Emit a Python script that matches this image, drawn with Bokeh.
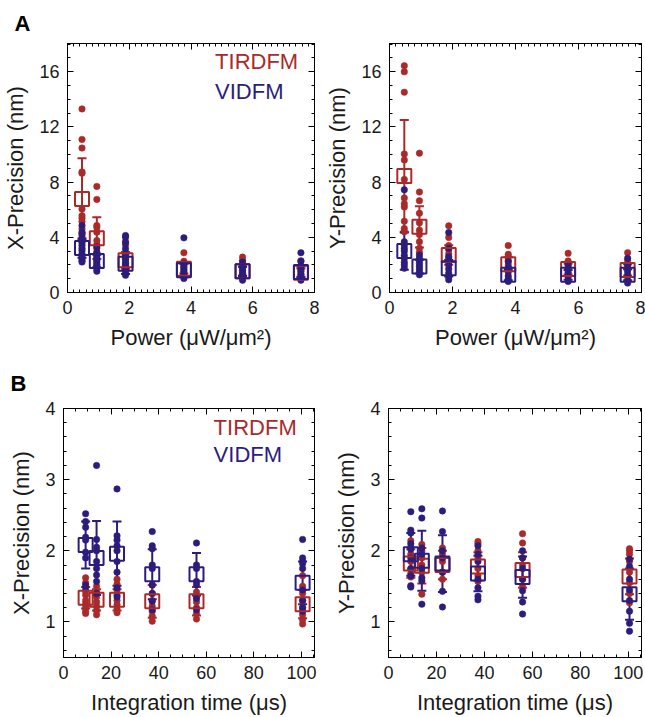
import numpy as np
from bokeh.plotting import figure
from bokeh.layouts import column, row
from bokeh.models import (Range1d, LinearAxis, Label, Whisker, TeeHead,
                          ColumnDataSource, FixedTicker, Title)
from bokeh.embed import file_html
from bokeh.resources import INLINE

# ---------------- data ----------------
power = [0.47, 0.95, 1.88, 3.77, 5.67, 7.56]
itime = [9.3, 13.9, 22.5, 37.3, 55.9, 100.5]

# Panel A, X-precision vs power
tir_ax_mean = [6.77, 3.94, 2.33, 1.73, 1.54, 1.44]
tir_ax_sd = [2.96, 1.51, 0.60, 0.35, 0.30, 0.30]
vi_ax_mean = [3.22, 2.28, 2.09, 1.61, 1.54, 1.49]
vi_ax_sd = [0.70, 0.45, 0.75, 0.50, 0.35, 0.40]
tir_ax_pts = [
    [13.31, 11.1, 10.47, 8.74, 8.65, 6.05, 5.57, 5.38, 5.14, 4.6, 4.3, 4.0, 3.7],
    [7.69, 6.75, 4.85, 4.72, 4.37, 3.77, 3.48, 3.2, 2.9],
    [3.7, 3.46, 2.9, 2.69, 2.4, 2.1, 1.9],
    [2.88, 2.26, 2.0, 1.8, 1.6, 1.4],
    [2.57, 2.33, 2.0, 1.7, 1.4, 1.2],
    [2.3, 1.9, 1.6, 1.3, 1.1],
]
vi_ax_pts = [
    [4.85, 4.37, 4.18, 3.89, 3.6, 3.41, 3.2, 3.05, 2.81, 2.6, 2.45, 2.3, 2.21],
    [3.3, 2.9, 2.69, 2.55, 2.45, 2.3, 2.21, 2.05, 1.97, 1.85, 1.73, 1.54],
    [4.13, 4.01, 3.6, 3.17, 2.81, 2.6, 2.45, 2.2, 1.97, 1.8, 1.61, 1.45, 1.25],
    [3.96, 2.1, 1.9, 1.7, 1.5, 1.35, 1.2, 1.01],
    [2.21, 2.0, 1.8, 1.6, 1.4, 1.2, 1.05, 0.89],
    [2.88, 2.26, 1.9, 1.7, 1.5, 1.3, 1.1, 0.89],
]

# Panel A, Y-precision vs power
tir_ay_mean = [8.45, 4.76, 2.72, 2.05, 1.71, 1.64]
tir_ay_sd = [4.05, 1.50, 0.70, 0.50, 0.40, 0.40]
vi_ay_mean = [3.00, 1.88, 1.76, 1.28, 1.28, 1.28]
vi_ay_sd = [1.35, 0.50, 0.60, 0.40, 0.35, 0.40]
tir_ay_pts = [
    [16.44, 16.0, 14.52, 10.04, 9.6, 8.2, 6.85, 6.44, 6.2, 5.17, 4.64, 4.4],
    [10.1, 7.28, 6.65, 5.74, 5.05, 4.52, 4.2, 3.68, 3.2, 2.9],
    [4.83, 3.99, 3.4, 3.1, 2.8, 2.5, 2.2],
    [3.4, 2.77, 2.6, 2.3, 2.0, 1.8],
    [2.84, 2.29, 2.0, 1.8, 1.5],
    [2.89, 2.3, 2.0, 1.7, 1.4],
]
vi_ay_pts = [
    [7.45, 3.68, 3.44, 3.2, 3.0, 2.7, 2.48, 2.2, 2.0, 1.76],
    [2.72, 2.48, 2.3, 2.1, 1.9, 1.7, 1.5, 1.28],
    [4.35, 3.2, 2.6, 2.3, 2.0, 1.7, 1.4, 1.15, 0.92],
    [2.24, 1.8, 1.5, 1.2, 1.0, 0.8],
    [2.0, 1.7, 1.4, 1.1, 0.8],
    [2.48, 2.0, 1.6, 1.2, 0.9, 0.68],
]

# Panel B, X-precision vs integration time
tir_bx_mean = [1.34, 1.31, 1.31, 1.29, 1.29, 1.25]
tir_bx_sd = [0.15, 0.15, 0.15, 0.23, 0.20, 0.20]
vi_bx_mean = [2.08, 1.90, 1.96, 1.67, 1.67, 1.55]
vi_bx_sd = [0.33, 0.52, 0.45, 0.35, 0.30, 0.30]
tir_bx_pts = [
    [1.62, 1.55, 1.43, 1.38, 1.3, 1.25, 1.2, 1.15, 1.12],
    [1.5, 1.42, 1.35, 1.28, 1.22, 1.16, 1.1],
    [1.6, 1.53, 1.45, 1.38, 1.3, 1.24, 1.18, 1.13],
    [1.52, 1.4, 1.3, 1.22, 1.15, 1.08, 1.01],
    [1.42, 1.35, 1.28, 1.2, 1.12, 1.04],
    [1.65, 1.5, 1.4, 1.3, 1.2, 1.1, 1.03, 0.97],
]
vi_bx_pts = [
    [2.52, 2.41, 2.33, 2.19, 2.15, 1.98, 1.9, 1.52, 1.48],
    [3.2, 2.16, 2.05, 2.0, 1.85, 1.75, 1.66, 1.57, 1.4],
    [2.87, 2.21, 2.15, 2.07, 2.0, 1.85, 1.7, 1.48, 1.35],
    [2.27, 2.07, 2.03, 1.8, 1.75, 1.52, 1.4, 1.29, 1.17],
    [2.11, 1.8, 1.75, 1.57, 1.52, 1.33, 1.17],
    [2.16, 1.9, 1.85, 1.82, 1.75, 1.45, 1.3, 1.2, 1.15],
]

# Panel B, Y-precision vs integration time
tir_by_mean = [1.82, 1.79, 1.80, 1.78, 1.73, 1.64]
tir_by_sd = [0.20, 0.25, 0.20, 0.20, 0.25, 0.25]
vi_by_mean = [1.95, 1.86, 1.82, 1.68, 1.63, 1.39]
vi_by_sd = [0.30, 0.42, 0.40, 0.25, 0.29, 0.36]
tir_by_pts = [
    [2.14, 2.05, 1.95, 1.85, 1.74, 1.68, 1.63],
    [2.09, 2.0, 1.9, 1.8, 1.7, 1.39],
    [2.04, 1.95, 1.85, 1.7, 1.6],
    [2.13, 2.1, 2.0, 1.9, 1.75, 1.65, 1.57],
    [2.24, 2.11, 1.9, 1.8, 1.6, 1.5],
    [2.03, 2.0, 1.95, 1.85, 1.7, 1.55, 1.4, 1.27],
]
vi_by_pts = [
    [2.55, 2.29, 2.25, 2.1, 2.02, 1.9, 1.75, 1.65, 1.51, 1.49],
    [2.59, 2.46, 2.04, 1.95, 1.75, 1.62, 1.58, 1.25],
    [2.56, 2.27, 2.0, 1.9, 1.7, 1.43, 1.21],
    [2.07, 1.95, 1.85, 1.6, 1.48, 1.36, 1.31],
    [2.0, 1.9, 1.75, 1.6, 1.44, 1.28, 1.11],
    [1.88, 1.78, 1.6, 1.45, 1.3, 1.15, 0.98, 0.87],
]

power_ticks = [0, 2, 4, 6, 8]
prec_ticks_a = [0, 4, 8, 12, 16]
time_ticks = [0, 20, 40, 60, 80, 100]
prec_ticks_b = [1, 2, 3, 4]

# ---------------- styling ----------------
RED = "#aa2a2a"
BLUE = "#2c1c7c"
FONT = "Liberation Sans"
TICK_FS = "18px"
LABEL_FS = "22px"


def style_axis(ax, show_labels, ticks):
    ax.axis_line_color = "black"
    ax.axis_line_width = 1
    ax.major_tick_in = 6
    ax.major_tick_out = 0
    ax.minor_tick_in = 3
    ax.minor_tick_out = 0
    ax.major_tick_line_color = "black"
    ax.minor_tick_line_color = "black"
    ax.major_label_text_font = FONT
    ax.major_label_text_color = "#1a1a1a"
    ax.major_label_text_font_size = TICK_FS
    ax.axis_label_text_font = FONT
    ax.axis_label_text_font_style = "normal"
    ax.axis_label_text_font_size = LABEL_FS
    ax.axis_label_text_color = "#1a1a1a"
    if show_labels:
        ax.major_label_standoff = 8
        ax.axis_label_standoff = 8
    else:
        ax.major_label_overrides = {t: "" for t in ticks}
        ax.major_label_standoff = 0


def make_fig(w, h, bl, br, bt, bb, xr, yr, xt, xminor, yt, yminor, xlabel, ylabel):
    p = figure(width=w, height=h, output_backend="svg", toolbar_location=None,
               x_range=Range1d(*xr), y_range=Range1d(*yr),
               min_border_left=bl, min_border_right=br,
               min_border_top=bt, min_border_bottom=bb,
               x_axis_label=xlabel, y_axis_label=ylabel)
    p.grid.visible = False
    p.outline_line_color = "black"
    p.background_fill_color = "white"
    p.border_fill_color = "white"
    p.xaxis.ticker = FixedTicker(ticks=xt, minor_ticks=xminor)
    p.yaxis.ticker = FixedTicker(ticks=yt, minor_ticks=yminor)
    style_axis(p.xaxis[0], True, xt)
    style_axis(p.yaxis[0], True, yt)
    top = LinearAxis(ticker=FixedTicker(ticks=xt, minor_ticks=xminor))
    style_axis(top, False, xt)
    p.add_layout(top, "above")
    right = LinearAxis(ticker=FixedTicker(ticks=yt, minor_ticks=yminor))
    style_axis(right, False, yt)
    p.add_layout(right, "right")
    return p


def add_series(p, xs, pts, color):
    px, py = [], []
    for x, col in zip(xs, pts):
        for v in col:
            px.append(x)
            py.append(v)
    p.scatter(px, py, size=6.5, marker="circle", fill_color=color,
              line_color=color, line_width=0.5)


def add_summary(p, xs, mean, sd, color):
    src = ColumnDataSource(dict(x=xs, m=mean,
                                lo=[m - s for m, s in zip(mean, sd)],
                                hi=[m + s for m, s in zip(mean, sd)]))
    w = Whisker(source=src, base="x", lower="lo", upper="hi",
                line_color=color, line_width=2,
                upper_head=TeeHead(size=9, line_color=color, line_width=2),
                lower_head=TeeHead(size=9, line_color=color, line_width=2))
    p.add_layout(w)
    p.scatter("x", "m", source=src, marker="square", size=14,
              fill_color=None, line_color=color, line_width=2)


def legend(p, x, y1, y2):
    p.add_layout(Label(x=x, y=y1, text="TIRDFM", text_color=RED,
                       text_font=FONT, text_font_size="22px"))
    p.add_layout(Label(x=x, y=y2, text="VIDFM", text_color=BLUE,
                       text_font=FONT, text_font_size="22px"))


def panel_letter(p, letter, standoff):
    p.add_layout(Title(text=letter, align="left", offset=-53,
                       text_font=FONT, text_font_style="bold",
                       text_font_size="22px", text_color="black",
                       standoff=standoff), "above")


pw_minor = list(np.round(np.arange(0, 8.01, 0.2), 3))
pa_minor = list(range(0, 19))
t_minor = list(range(0, 106, 5))
pb_minor = list(np.round(np.arange(0.6, 4.01, 0.2), 3))

TOP_H, BOT_H = 352, 365
L_W, R_W = 322, 323

power_label = "Power (\u03bcW/\u03bcm\u00b2)"
time_label = "Integration time (\u03bcs)"

p1 = make_fig(L_W, TOP_H, 63, 8, 43, 58, (0, 8), (0, 18.05),
              power_ticks, pw_minor, prec_ticks_a, pa_minor,
              power_label, "X-Precision (nm)")
add_series(p1, power, tir_ax_pts, RED)
add_series(p1, power, vi_ax_pts, BLUE)
add_summary(p1, power, tir_ax_mean, tir_ax_sd, RED)
add_summary(p1, power, vi_ax_mean, vi_ax_sd, BLUE)
legend(p1, 4.78, 15.85, 13.7)
panel_letter(p1, "A", 16)

p2 = make_fig(R_W, TOP_H, 66, 4, 43, 58, (0, 8), (0, 18.05),
              power_ticks, pw_minor, prec_ticks_a, pa_minor,
              power_label, "Y-Precision (nm)")
add_series(p2, power, tir_ay_pts, RED)
add_series(p2, power, vi_ay_pts, BLUE)
add_summary(p2, power, tir_ay_mean, tir_ay_sd, RED)
add_summary(p2, power, vi_ay_mean, vi_ay_sd, BLUE)

p3 = make_fig(L_W, BOT_H, 63, 8, 56, 57, (0, 105.5), (0.5, 4),
              time_ticks, t_minor, prec_ticks_b, pb_minor,
              time_label, "X-Precision (nm)")
add_series(p3, itime, tir_bx_pts, RED)
add_series(p3, itime, vi_bx_pts, BLUE)
add_summary(p3, itime, vi_bx_mean, vi_bx_sd, BLUE)
add_summary(p3, itime, tir_bx_mean, tir_bx_sd, RED)
legend(p3, 63.1, 3.56, 3.18)
panel_letter(p3, "B", 25)

p4 = make_fig(R_W, BOT_H, 66, 4, 56, 57, (0, 105.5), (0.5, 4),
              time_ticks, t_minor, prec_ticks_b, pb_minor,
              time_label, "Y-Precision (nm)")
add_series(p4, itime, tir_by_pts, RED)
add_series(p4, itime, vi_by_pts, BLUE)
add_summary(p4, itime, tir_by_mean, tir_by_sd, RED)
add_summary(p4, itime, vi_by_mean, vi_by_sd, BLUE)

layout = column(row(p1, p2), row(p3, p4))
open("out.html", "w").write(file_html(layout, INLINE))
